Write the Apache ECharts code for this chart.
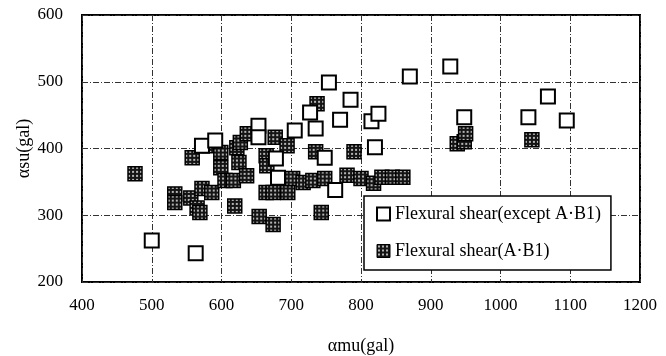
<!DOCTYPE html>
<html>
<head>
<meta charset="utf-8">
<script src="https://cdn.jsdelivr.net/npm/echarts@6/dist/echarts.min.js"></script>
<style>
  html, body { margin: 0; padding: 0; background: #fff; }
  #chart { width: 666px; height: 356px; }
</style>
</head>
<body>
<div id="chart"></div>
<script>
// Flexural shear (except A·B1): αmu, αsu
const exceptMu = [500, 563, 572, 591, 653, 653, 678, 681, 705, 727, 735, 748, 754, 763, 770, 785, 815, 825, 820, 870, 928, 948, 1040, 1068, 1095];
const exceptSu = [262, 243, 404, 412, 434, 417, 385, 356, 427, 454, 430, 386, 499, 338, 443, 473, 441, 452, 402, 508, 523, 447, 447, 478, 442];

// Flexural shear (A·B1): αmu, αsu
const ab1Mu = [476, 533, 533, 556, 558, 565, 569, 572, 581, 586, 599, 599, 605, 617, 619, 622, 627, 637, 625, 636, 654, 664, 665, 664, 674, 674, 677, 694, 695, 702, 717, 731, 748, 735, 737, 743, 780, 790, 800, 818, 830, 845, 860, 938, 948, 950, 1045];
const ab1Su = [362, 332, 319, 326, 386, 311, 304, 340, 404, 334, 394, 371, 352, 352, 314, 401, 409, 422, 379, 359, 298, 389, 374, 334, 334, 286, 417, 404, 334, 355, 349, 352, 355, 395, 467, 304, 360, 395, 355, 348, 357, 357, 357, 407, 410, 422, 413];

const xTicks = [400, 500, 600, 700, 800, 900, 1000, 1100, 1200];
const yTicks = [200, 300, 400, 500, 600];

const serif = '"Liberation Serif", "DejaVu Serif", serif';
const SYMBOL = 14;

// dotted halftone tile for the A·B1 markers
function dotTile() {
  const c = document.createElement('canvas');
  c.width = 4; c.height = 4;
  const g = c.getContext('2d');
  g.fillStyle = '#141414';
  g.fillRect(0, 0, 4, 4);
  g.fillStyle = '#b4b4b4';
  g.fillRect(1, 1, 2, 2);
  return c;
}
const tile = dotTile();
// scatter symbols are drawn on a unit path scaled by size/2, so shrink the tile to keep 4px dots
const markerFill = { image: tile, repeat: 'repeat', scaleX: 2 / SYMBOL, scaleY: 2 / SYMBOL };
const legendFill = { image: tile, repeat: 'repeat' };

const pair = (xs, ys) => xs.map((x, i) => [x, ys[i]]);

const chart = echarts.init(document.getElementById('chart'), null, { renderer: 'canvas' });

const gridLine = { show: true, lineStyle: { color: '#333', width: 1, type: [6, 2, 1, 2] } };

chart.setOption({
  animation: false,
  backgroundColor: '#fff',
  grid: {
    left: 82, right: 26, top: 15, bottom: 74, outerBoundsMode: 'none', containLabel: false,
    show: true, borderColor: '#000', borderWidth: 2, backgroundColor: 'transparent'
  },
  xAxis: {
    type: 'value', min: xTicks[0], max: xTicks[xTicks.length - 1], interval: 100,
    name: 'αmu(gal)', nameLocation: 'middle', nameGap: 55, nameMoveOverlap: false,
    nameTextStyle: { fontFamily: serif, fontSize: 18, color: '#000' },
    axisLine: { show: false }, axisTick: { show: false },
    axisLabel: { fontFamily: serif, fontSize: 17, color: '#000', margin: 15, formatter: v => String(v) },
    splitLine: gridLine
  },
  yAxis: {
    type: 'value', min: yTicks[0], max: yTicks[yTicks.length - 1], interval: 100,
    name: 'αsu(gal)', nameLocation: 'middle', nameGap: 49, nameRotate: 90, nameMoveOverlap: false,
    nameTextStyle: { fontFamily: serif, fontSize: 18, color: '#000' },
    axisLine: { show: false }, axisTick: { show: false },
    axisLabel: { fontFamily: serif, fontSize: 17, color: '#000', margin: 19, formatter: v => String(v) },
    splitLine: gridLine
  },
  legend: {
    orient: 'vertical', left: 364, top: 196, width: 274, height: 84,
    padding: [9, 10, 10, 12], itemGap: 19, itemWidth: 13, itemHeight: 13,
    backgroundColor: '#fff', borderColor: '#000', borderWidth: 1.5,
    textStyle: { fontFamily: serif, fontSize: 18, color: '#000', padding: [0, 0, 0, 0] },
    data: [
      { name: 'Flexural shear(except A·B1)' },
      { name: 'Flexural shear(A·B1)', itemStyle: { color: legendFill, borderColor: '#000', borderWidth: 1 } }
    ]
  },
  series: [
    {
      name: 'Flexural shear(A·B1)', type: 'scatter', symbol: 'rect', symbolSize: SYMBOL,
      data: pair(ab1Mu, ab1Su), z: 2,
      itemStyle: { color: markerFill, borderColor: '#000', borderWidth: 1.5, opacity: 1 }
    },
    {
      name: 'Flexural shear(except A·B1)', type: 'scatter', symbol: 'rect', symbolSize: SYMBOL,
      data: pair(exceptMu, exceptSu), z: 3,
      itemStyle: { color: '#fff', borderColor: '#000', borderWidth: 2, opacity: 1 }
    }
  ]
});
</script>
</body>
</html>
